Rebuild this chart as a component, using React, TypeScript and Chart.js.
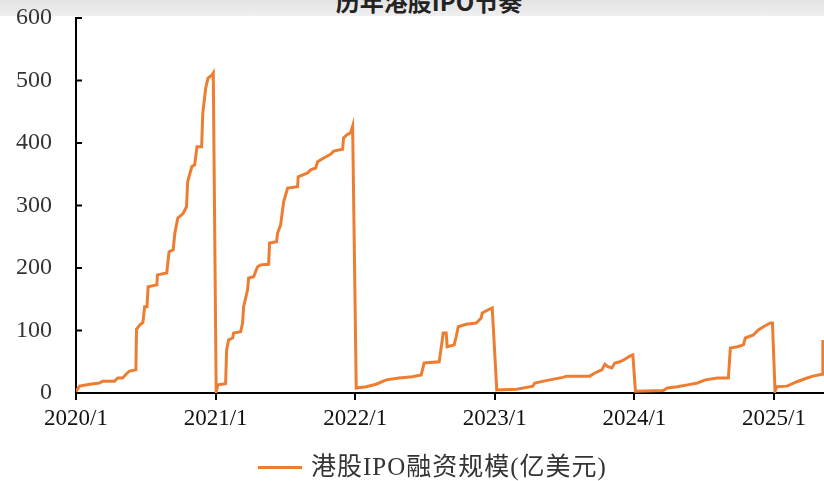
import React, { useEffect, useRef } from "react";
import { Chart, registerables } from "chart.js";

Chart.register(...registerables);

const ORANGE = "#ED7D31";
const TITLE = "历年港股IPO节奏";
const SERIES_LABEL = "港股IPO融资规模(亿美元)";
const START_YEAR = 2020;
const X_TICKS = [0, 12, 24, 36, 48, 60];
const Y_MAX = 600;
const X_MAX = 64.3;

// months elapsed within each year, and the cumulative fundraising (亿美元)
const m2020 = [0, 0.3, 1.2, 2.0, 2.3, 3.3, 3.6, 4.0, 4.4, 4.6, 5.15, 5.2, 5.5, 5.75, 5.9, 6.1, 6.2, 6.95, 7.0, 7.8, 8.0, 8.35, 8.5, 8.75, 9.2, 9.5, 9.6, 9.95, 10.2, 10.4, 10.8, 10.9, 11.15, 11.35, 11.7, 11.8];
const v2020 = [2, 11, 14, 16, 19, 19, 24, 24, 32, 35, 37, 102, 109, 113, 138, 138, 170, 173, 189, 192, 226, 229, 256, 280, 287, 298, 338, 362, 365, 394, 394, 448, 488, 504, 509, 512];

const m2021 = [0.05, 0.2, 0.86, 0.95, 1.12, 1.46, 1.55, 2.15, 2.32, 2.41, 2.75, 2.84, 3.27, 3.61, 3.87, 4.56, 4.64, 5.24, 5.33, 5.59, 5.85, 6.19, 7.05, 7.1, 7.91, 8.17, 8.6, 8.77, 9.29, 9.89, 10.15, 10.92, 11.0, 11.35, 11.6, 11.78];
const v2021 = [2, 13, 15, 69, 85, 88, 96, 98, 112, 138, 165, 184, 186, 202, 205, 206, 240, 242, 256, 269, 306, 328, 330, 346, 352, 357, 360, 370, 376, 382, 387, 390, 408, 414, 416, 427];

const m2022 = [0.09, 0.95, 1.8, 2.67, 3.78, 4.9, 5.67, 5.93, 7.22, 7.39, 7.57, 7.82, 7.91, 8.51, 8.68, 8.86, 9.54, 10.4, 10.83, 10.92, 11.52, 11.78];
const v2022 = [8, 10, 14, 21, 24, 26, 29, 48, 50, 72, 96, 96, 74, 77, 90, 106, 110, 112, 120, 128, 134, 136];

const m2023 = [0.17, 1.89, 3.27, 3.44, 4.73, 5.85, 6.19, 8.17, 8.6, 9.2, 9.46, 9.72, 10.06, 10.32, 10.75, 11.18, 11.61, 11.87];
const v2023 = [5, 6, 11, 16, 21, 25, 27, 27, 32, 37, 46, 42, 40, 48, 50, 54, 59, 61];

const m2024 = [0.09, 2.49, 2.84, 3.7, 4.56, 5.42, 6.1, 7.14, 8.08, 8.25, 8.86, 9.37, 9.54, 10.23, 10.66, 11.09, 11.69, 11.87];
const v2024 = [3, 4, 8, 10, 13, 16, 21, 24, 24, 72, 74, 77, 88, 93, 101, 106, 112, 112];

const m2025 = [0.09, 0.26, 1.12, 1.98, 2.84, 3.35, 4.13, 4.2];
const v2025 = [3, 10, 11, 18, 24, 27, 30, 85];

const YEAR_MONTHS = [m2020, m2021, m2022, m2023, m2024, m2025];
const YEAR_VALUES = [v2020, v2021, v2022, v2023, v2024, v2025];

const SERIF = '"Liberation Serif", "Times New Roman", serif';

const innerYTicks = {
  id: "innerYTicks",
  afterDraw(chart: any) {
    const y = chart.scales.y;
    const ctx = chart.ctx;
    ctx.save();
    ctx.strokeStyle = "#000";
    ctx.lineWidth = 2;
    y.ticks.forEach((t: any) => {
      if (t.value === 0) return;
      const py = y.getPixelForValue(t.value);
      ctx.beginPath();
      ctx.moveTo(y.right, py);
      ctx.lineTo(y.right + 6, py);
      ctx.stroke();
    });
    ctx.restore();
  },
};

export default function App() {
  const ref = useRef<HTMLCanvasElement | null>(null);

  useEffect(() => {
    if (!ref.current) return;
    const points: { x: number; y: number }[] = [];
    YEAR_MONTHS.forEach((months, i) => {
      months.forEach((m, j) => points.push({ x: i * 12 + m, y: YEAR_VALUES[i][j] }));
    });
    const chart = new Chart(ref.current, {
      type: "line",
      data: {
        datasets: [
          {
            label: SERIES_LABEL,
            data: points,
            borderColor: ORANGE,
            backgroundColor: ORANGE,
            borderWidth: 3,
            pointRadius: 0,
            tension: 0,
          },
        ],
      },
      options: {
        animation: false,
        responsive: false,
        layout: { padding: { top: 18, left: 0, right: 0, bottom: 0 } },
        plugins: {
          legend: { display: false },
          tooltip: { enabled: false },
        },
        scales: {
          x: {
            type: "linear",
            min: 0,
            max: X_MAX,
            afterBuildTicks: (s: any) => {
              s.ticks = X_TICKS.map((v) => ({ value: v }));
            },
            afterFit: (s: any) => {
              s.height = 88;
              s.paddingLeft = 0;
              s.paddingRight = 0;
            },
            ticks: {
              autoSkip: false,
              maxRotation: 0,
              padding: 5,
              color: "#111",
              font: { family: SERIF, size: 23 },
              callback: (v: any) => `${START_YEAR + Number(v) / 12}/1`,
            },
            grid: {
              drawOnChartArea: false,
              drawTicks: true,
              tickLength: 7,
              color: "#000",
              lineWidth: 2,
            },
            border: { display: true, color: "#000", width: 2 },
          },
          y: {
            min: 0,
            max: Y_MAX,
            afterFit: (s: any) => {
              s.width = 76;
              s.paddingTop = 0;
              s.paddingBottom = 0;
            },
            ticks: {
              stepSize: 100,
              padding: 24,
              color: "#333",
              font: { family: SERIF, size: 24 },
            },
            grid: { display: false, drawTicks: false },
            border: { display: true, color: "#000", width: 2 },
          },
        },
      },
      plugins: [innerYTicks],
    } as any);
    return () => chart.destroy();
  }, []);

  return (
    <div
      style={{
        position: "absolute",
        left: 0,
        top: 0,
        width: 824,
        height: 481,
        overflow: "hidden",
        background: "#fff",
      }}
    >
      <div
        style={{
          position: "absolute",
          left: 0,
          top: 0,
          width: 824,
          height: 16,
          overflow: "hidden",
          background: "linear-gradient(to bottom, #e3e3e3, #efefef)",
        }}
      >
        <div
          style={{
            position: "absolute",
            left: 0,
            top: -11,
            width: 858,
            textAlign: "center",
            fontFamily: '"Noto Sans CJK SC", sans-serif',
            fontWeight: 700,
            fontSize: 24,
            lineHeight: "24px",
            color: "#222",
            whiteSpace: "nowrap",
          }}
        >
          {TITLE}
        </div>
      </div>
      <canvas
        ref={ref}
        width={824}
        height={481}
        style={{ position: "absolute", left: 0, top: 0, display: "block" }}
      />
      <div
        style={{
          position: "absolute",
          left: 258,
          top: 453,
          display: "flex",
          alignItems: "center",
          whiteSpace: "nowrap",
        }}
      >
        <span style={{ display: "inline-block", width: 44, height: 3, background: ORANGE }} />
        <span
          style={{
            marginLeft: 9,
            fontFamily: '"Liberation Serif", "Noto Sans CJK SC", serif',
            fontSize: 25,
            lineHeight: "28px",
            letterSpacing: 1,
            color: "#333",
          }}
        >
          {SERIES_LABEL}
        </span>
      </div>
    </div>
  );
}
